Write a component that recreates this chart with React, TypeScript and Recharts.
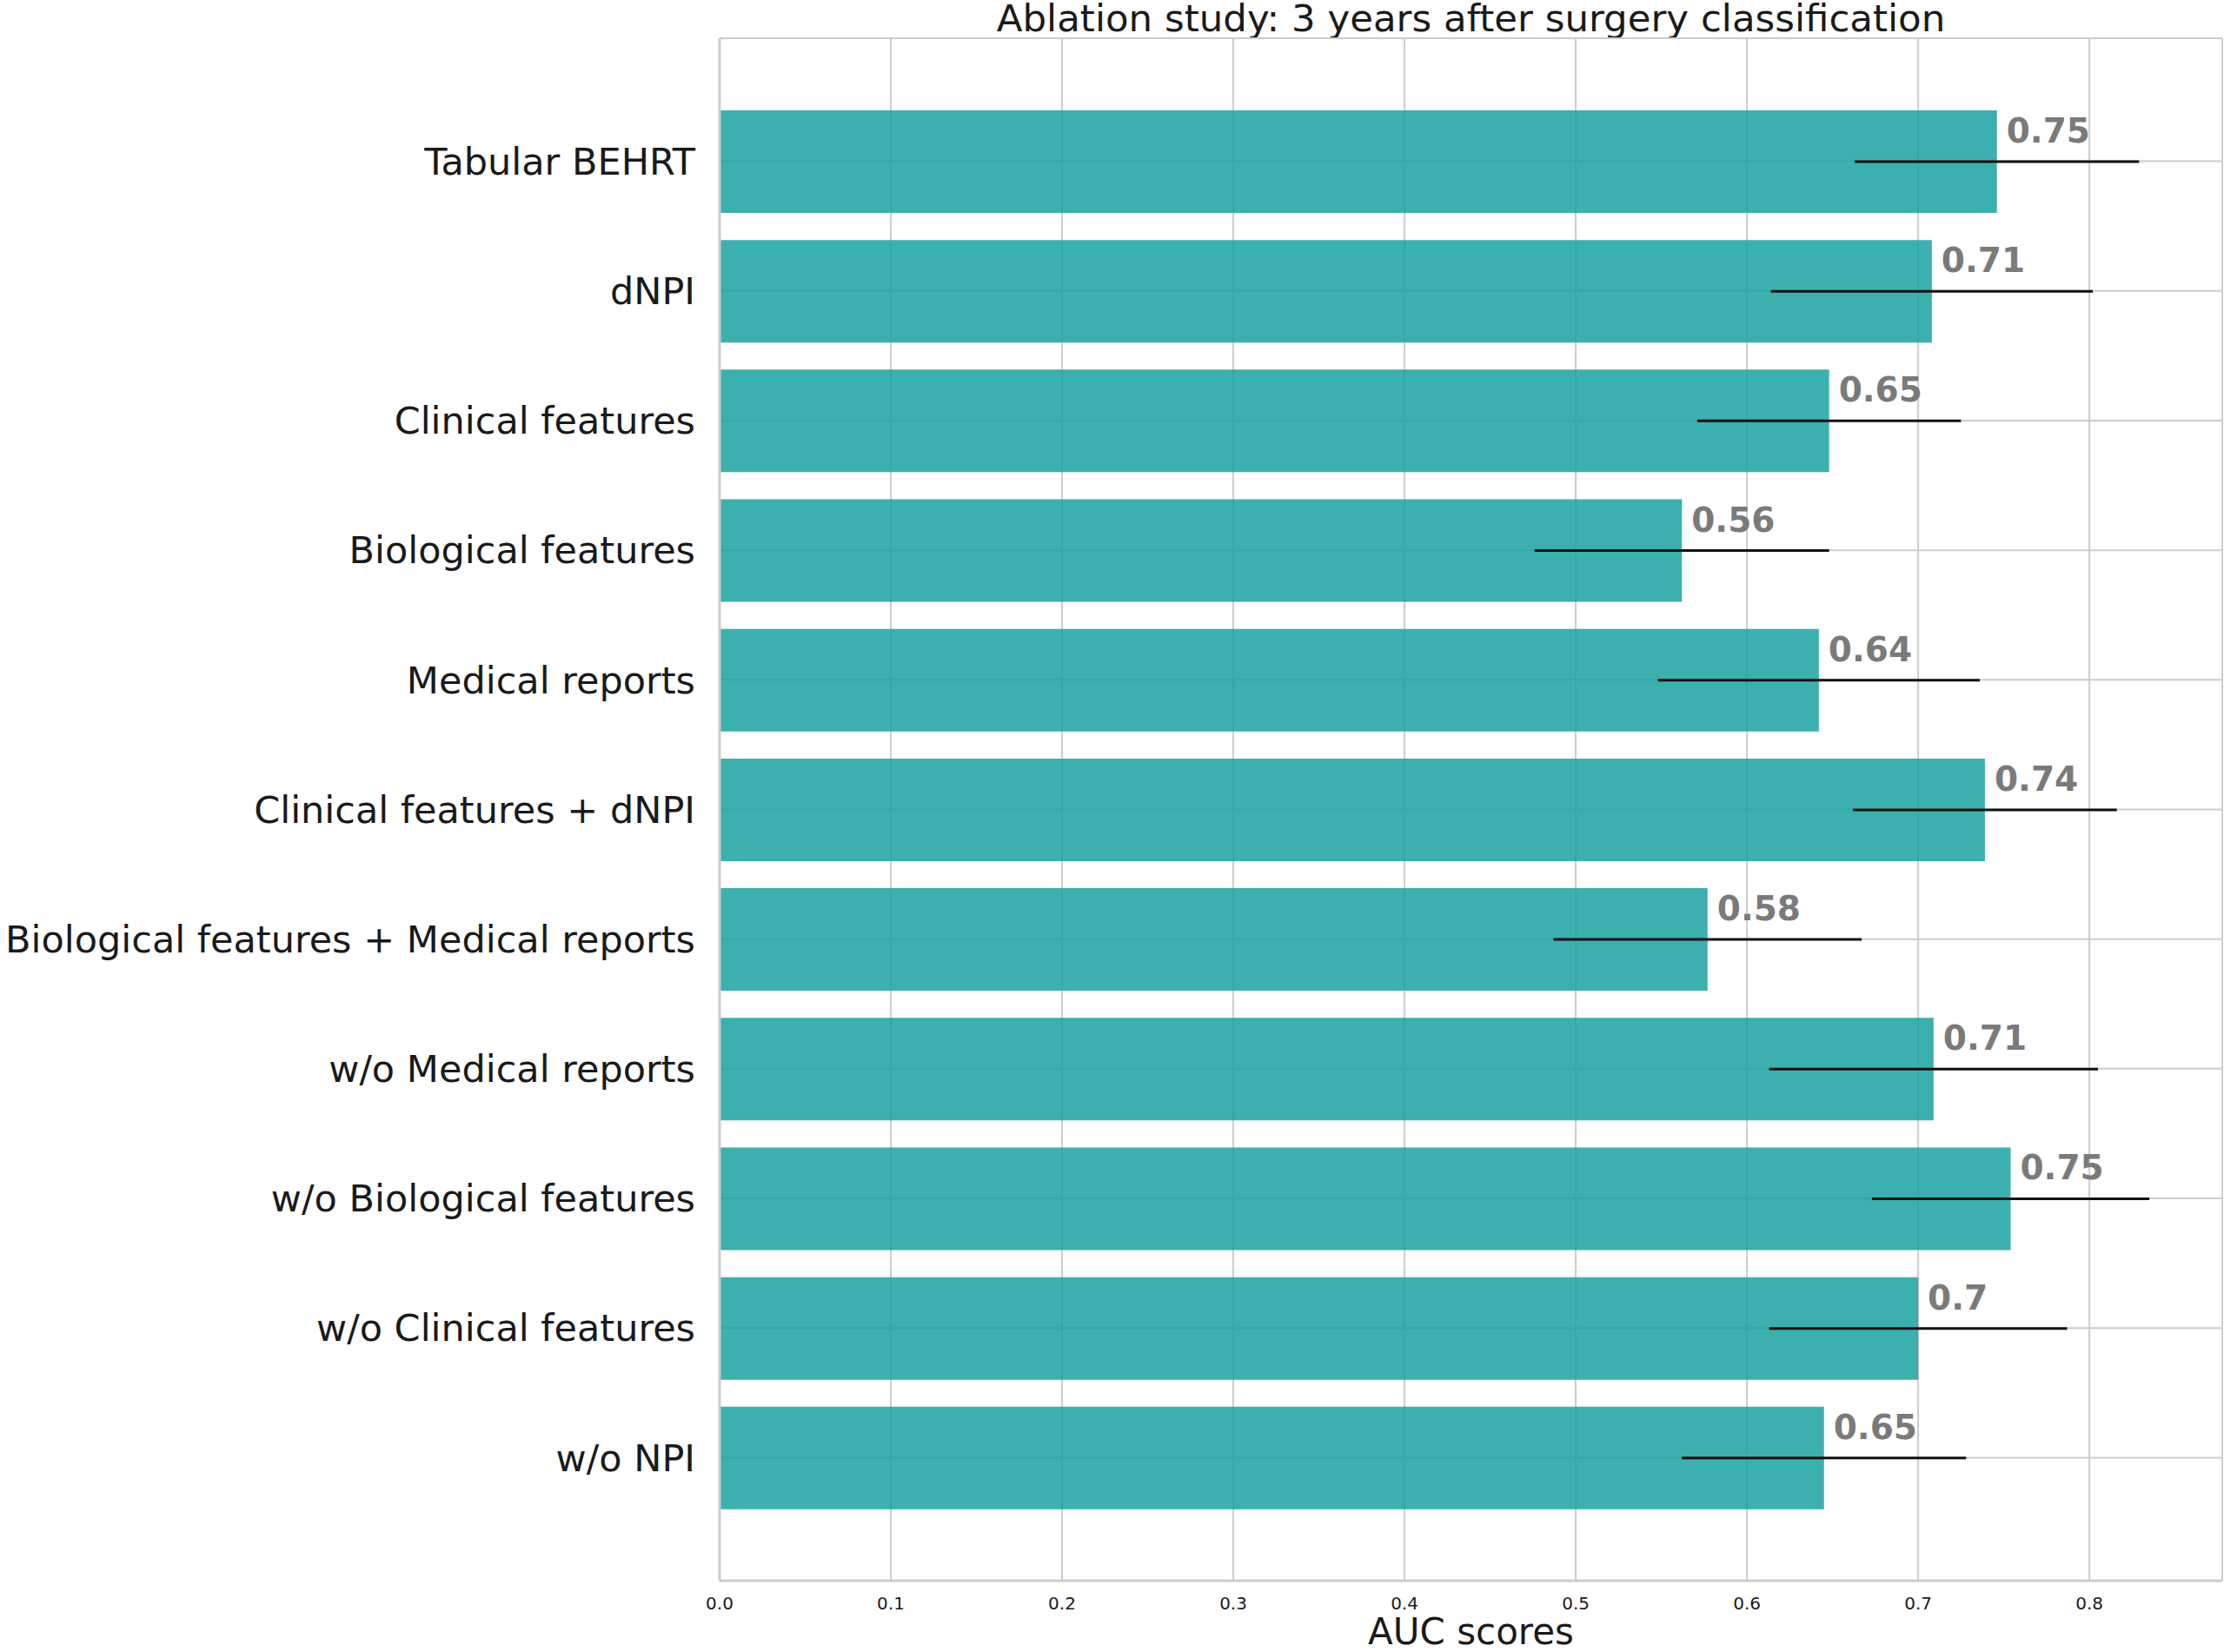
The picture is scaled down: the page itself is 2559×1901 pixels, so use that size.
import React from 'react';
import {
    BarChart,
    Bar,
    XAxis,
    YAxis,
    CartesianGrid,
    ErrorBar,
    LabelList,
} from 'recharts';

const models = [
    'Tabular BEHRT',
    'dNPI',
    'Clinical features',
    'Biological features',
    'Medical reports',
    'Clinical features + dNPI',
    'Biological features + Medical reports',
    'w/o Medical reports',
    'w/o Biological features',
    'w/o Clinical features',
    'w/o NPI',
];

const aucScores = [0.746, 0.708, 0.648, 0.562, 0.642, 0.739, 0.577, 0.709, 0.754, 0.7, 0.645];
const aucErrors = [0.083, 0.094, 0.077, 0.086, 0.094, 0.077, 0.09, 0.096, 0.081, 0.087, 0.083];

const xTicks = [0, 0.1, 0.2, 0.3, 0.4, 0.5, 0.6, 0.7, 0.8];
const X_MAX = 0.8776;

const FONT = '"DejaVu Sans", sans-serif';
const SPINE = { stroke: '#cccccc', strokeWidth: 3 };

const chartData = models.map((name, i) => ({
    name,
    auc: aucScores[i],
    err: aucErrors[i],
}));

// eslint-disable-next-line @typescript-eslint/no-explicit-any
const ValueLabel = (props: any) => {
    const { x, y, width, height, value } = props;
    const text = String(Math.round(value * 100) / 100);
    return (
        <text
            x={x + width + 11}
            y={y + height / 2 - 22}
            fill="#7a7a7a"
            fontSize={39}
            fontWeight="bold"
            fontFamily={FONT}
        >
            {text}
        </text>
    );
};

export default function App() {
    return (
        <div style={{ position: 'absolute', left: 0, top: 0, width: 2559, height: 1901, background: '#fff' }}>
            <div
                style={{
                    position: 'absolute',
                    left: 828,
                    width: 1729,
                    top: 0,
                    textAlign: 'center',
                    fontFamily: FONT,
                    fontSize: 43.5,
                    lineHeight: '43px',
                    color: '#1a1a1a',
                    whiteSpace: 'nowrap',
                }}
            >
                Ablation study: 3 years after surgery classification
            </div>
            <BarChart
                width={2559}
                height={1901}
                data={chartData}
                layout="vertical"
                margin={{ top: 44, right: 2, bottom: 0, left: 0 }}
            >
                <CartesianGrid stroke="#cccccc" strokeWidth={2} />
                <XAxis
                    type="number"
                    domain={[0, X_MAX]}
                    ticks={xTicks}
                    tickFormatter={(v: number) => v.toFixed(1)}
                    height={82}
                    axisLine={SPINE}
                    tickLine={false}
                    tickSize={0}
                    tickMargin={19}
                    tick={{ fontSize: 20, fill: '#1a1a1a', fontFamily: FONT }}
                    label={{
                        value: 'AUC scores',
                        position: 'insideBottom',
                        offset: 9,
                        fontSize: 42,
                        fill: '#1a1a1a',
                        fontFamily: FONT,
                    }}
                />
                <XAxis
                    xAxisId="top"
                    orientation="top"
                    type="number"
                    domain={[0, X_MAX]}
                    height={0}
                    axisLine={SPINE}
                    tick={false}
                    tickLine={false}
                />
                <YAxis
                    type="category"
                    dataKey="name"
                    width={828}
                    axisLine={SPINE}
                    tickLine={false}
                    tickSize={0}
                    tickMargin={28}
                    interval={0}
                    padding={{ top: 67, bottom: 67 }}
                    tick={{ fontSize: 43, fill: '#1a1a1a', fontFamily: FONT }}
                />
                <YAxis
                    yAxisId="right"
                    orientation="right"
                    type="category"
                    dataKey="name"
                    width={0}
                    axisLine={SPINE}
                    tick={false}
                    tickLine={false}
                />
                <Bar
                    dataKey="auc"
                    fill="#17A19F"
                    fillOpacity={0.84}
                    barSize={118}
                    isAnimationActive={false}
                >
                    <ErrorBar
                        dataKey="err"
                        direction="x"
                        width={0}
                        stroke="#111111"
                        strokeWidth={3}
                        isAnimationActive={false}
                    />
                    <LabelList dataKey="auc" content={<ValueLabel />} />
                </Bar>
            </BarChart>
        </div>
    );
}
